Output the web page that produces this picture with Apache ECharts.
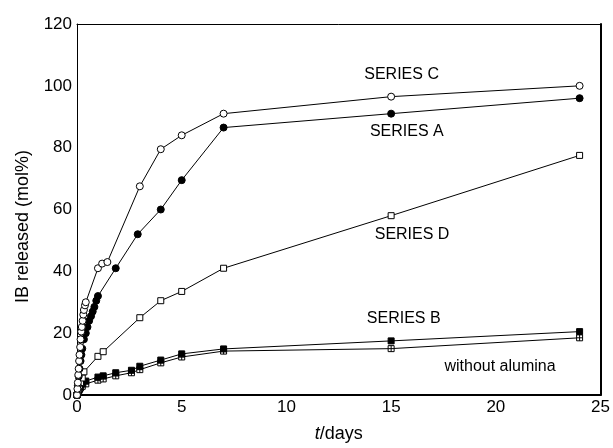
<!DOCTYPE html>
<html>
<head>
<meta charset="utf-8">
<script src="https://cdn.jsdelivr.net/npm/echarts@6/dist/echarts.min.js"></script>
<style>html,body{margin:0;padding:0;background:#fff}#c{width:613px;height:448px}</style>
</head>
<body>
<div id="c"></div>
<script>
// ---- data ----
var xTicks = [0, 5, 10, 15, 20, 25];
var yTicks = [0, 20, 40, 60, 80, 100, 120];
var tC = [0, 0.02, 0.04, 0.06, 0.08, 0.1, 0.12, 0.15, 0.17, 0.2, 0.23, 0.27, 0.3, 0.33, 0.38, 0.42, 1.0, 1.2, 1.45, 3, 4, 5, 7, 15, 24];
var vC = [0, 2, 4, 6.5, 8.5, 11, 13, 15.5, 18, 20.5, 22, 24, 26, 27.5, 29, 30, 41, 42.5, 43, 67.5, 79.5, 84, 91, 96.5, 100];
var tA = [0, 0.04, 0.08, 0.12, 0.17, 0.21, 0.25, 0.33, 0.42, 0.5, 0.58, 0.67, 0.75, 0.83, 0.92, 1.0, 1.85, 2.9, 4, 5, 7, 15, 24];
var vA = [0, 3, 6, 8.5, 11, 13, 15, 18, 20, 22, 24, 25.5, 27, 28.5, 30.5, 32, 41, 52, 60, 69.5, 86.5, 91, 96];
var tD = [0, 0.04, 0.08, 0.12, 0.17, 0.25, 0.33, 1.0, 1.25, 3, 4, 5, 7, 15, 24];
var vD = [0, 1, 2, 3, 4, 5.5, 7.5, 12.5, 14, 25, 30.5, 33.5, 41, 58, 77.5];
var tB = [0, 0.04, 0.08, 0.12, 0.17, 0.25, 0.42, 1.0, 1.25, 1.85, 2.6, 3, 4, 5, 7, 15, 24];
var vB = [0, 1, 1.8, 2.5, 3, 3.6, 4.5, 5.8, 6.2, 7.2, 8, 9.3, 11.3, 13.3, 14.9, 17.5, 20.5];
var tW = [0, 0.04, 0.08, 0.12, 0.17, 0.25, 0.42, 1.0, 1.25, 1.85, 2.6, 3, 4, 5, 7, 15, 24];
var vW = [0, 0.6, 1.2, 1.8, 2.3, 2.8, 3.6, 4.8, 5.2, 6.2, 7.2, 8.2, 10.4, 12.3, 14.2, 15, 18.5];
var seriesLabels = ['SERIES C', 'SERIES A', 'SERIES D', 'SERIES B', 'without alumina'];

function zip(t, v) { return t.map(function (x, i) { return [x, v[i]]; }); }

var chart = echarts.init(document.getElementById('c'), null, { renderer: 'canvas' });
var FONT = 'Liberation Sans, Arial, Helvetica, sans-serif';
var crossSq = 'path://M0,0L10,0L10,10L0,10Z M5,0L5,10 M0,5L10,5';

function mk(name, data, symbol, size, fill) {
  return {
    name: name, type: 'line', data: data, symbol: symbol, symbolSize: size,
    showAllSymbol: true, animation: false,
    lineStyle: { color: '#000', width: 1 },
    itemStyle: { color: fill, borderColor: '#000', borderWidth: 1 },
    emphasis: { disabled: true }, z: 3
  };
}

var option = {
  backgroundColor: '#fff',
  animation: false,
  grid: { left: 77, right: 12, top: 24, bottom: 47, show: false },
  xAxis: [{
    type: 'value', min: 0, max: 25, interval: 5, position: 'bottom',
    axisLine: { show: true, onZero: false, lineStyle: { color: '#000', width: 2 } },
    axisTick: { show: false }, splitLine: { show: false },
    axisLabel: { color: '#000', fontSize: 17, fontFamily: FONT, margin: 4,
      formatter: function (v) { return xTicks.indexOf(v) >= 0 ? String(v) : ''; } },
    name: '{i|t}{n|/days}', nameLocation: 'middle', nameGap: 30,
    nameTextStyle: { rich: {
      i: { fontStyle: 'italic', fontSize: 18, fontFamily: FONT, color: '#000' },
      n: { fontSize: 18, fontFamily: FONT, color: '#000' } } }
  }, {
    type: 'value', min: 0, max: 25, interval: 5, position: 'top',
    axisLine: { show: true, onZero: false, lineStyle: { color: '#000', width: 1 } },
    axisTick: { show: false }, splitLine: { show: false }, axisLabel: { show: false }
  }],
  yAxis: [{
    type: 'value', min: 0, max: 120, interval: 20, position: 'left',
    axisLine: { show: true, onZero: false, lineStyle: { color: '#000', width: 1 } },
    axisTick: { show: false }, splitLine: { show: false },
    axisLabel: { color: '#000', fontSize: 17, fontFamily: FONT, margin: 5,
      formatter: function (v) { return yTicks.indexOf(v) >= 0 ? String(v) : ''; } }
  }, {
    type: 'value', min: 0, max: 120, interval: 20, position: 'right',
    axisLine: { show: true, onZero: false, lineStyle: { color: '#000', width: 2 } },
    axisTick: { show: false }, splitLine: { show: false }, axisLabel: { show: false }
  }],
  graphic: [
    { type: 'text', left: 14, top: 150, rotation: Math.PI / 2, z: 10,
      style: { text: 'IB released (mol%)', fontSize: 18, fontFamily: FONT, fill: '#000' } }
  ],
  series: [
    mk('W', zip(tW, vW), crossSq, 6, '#fff'),
    mk('B', zip(tB, vB), 'rect', 6, '#000'),
    mk('D', zip(tD, vD), 'rect', 6, '#fff'),
    mk('A', zip(tA, vA), 'circle', 7, '#000'),
    mk('C', zip(tC, vC), 'circle', 7, '#fff')
  ]
};
chart.setOption(option);

// text labels placed in data coordinates
var labelPos = [[15.5, 103.5], [15.75, 85.3], [16.0, 52], [15.6, 24.8], [20.2, 9.2]];
var g = option.graphic.slice();
seriesLabels.forEach(function (txt, i) {
  var p = chart.convertToPixel({ gridIndex: 0 }, labelPos[i]);
  g.push({ type: 'text', x: p[0], y: p[1], z: 10,
    style: { text: txt, fontSize: 16, fontFamily: FONT, fill: '#000', align: 'center', verticalAlign: 'middle' } });
});
chart.setOption({ graphic: g });
</script>
</body>
</html>
